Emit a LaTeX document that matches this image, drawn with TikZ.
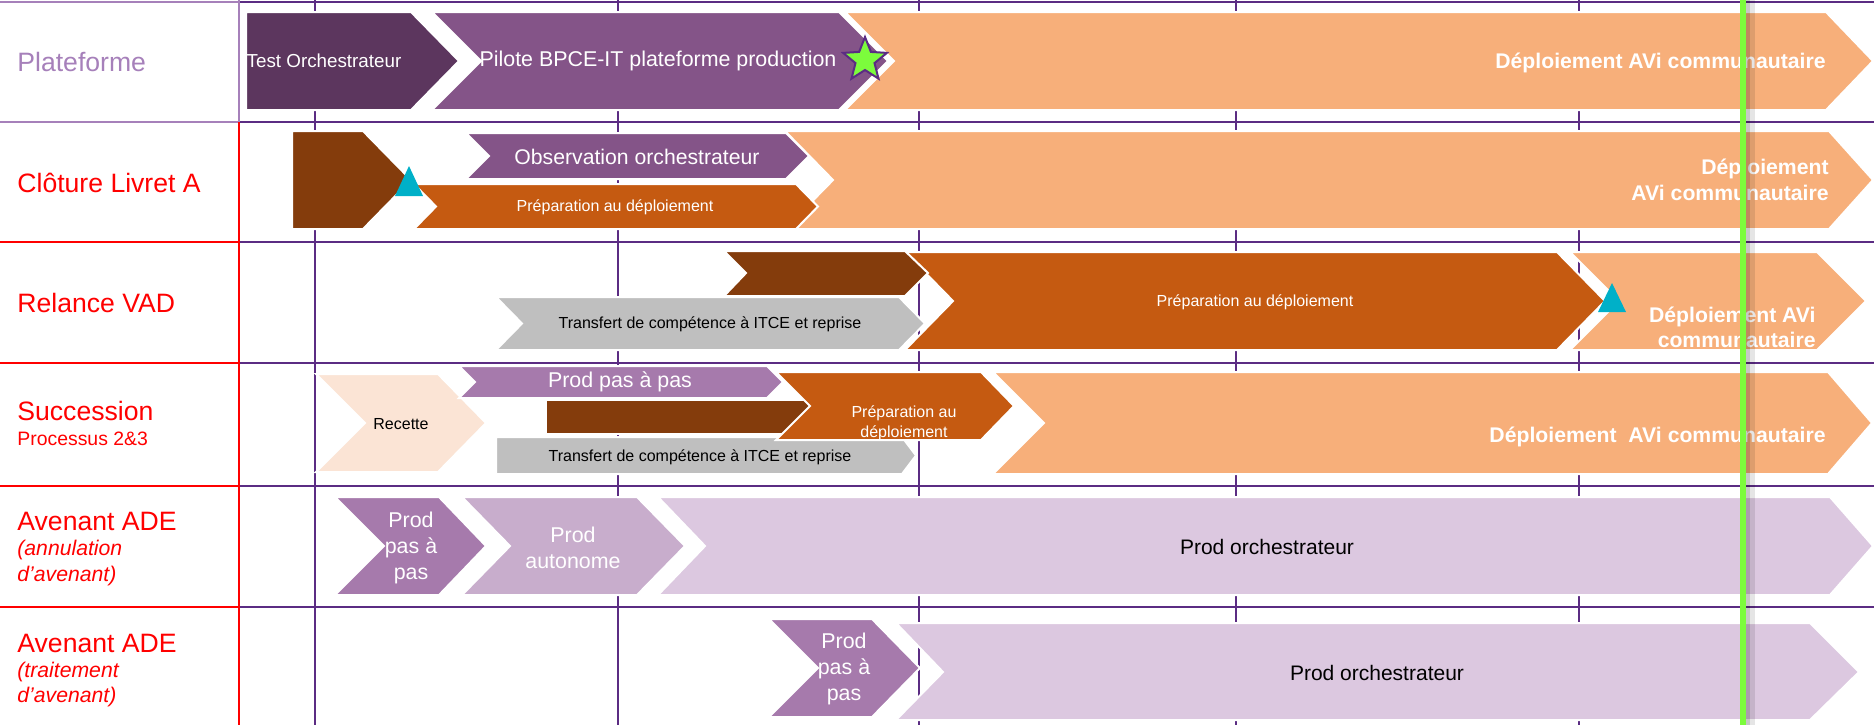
\documentclass[tikz,border=0pt]{standalone}
\usepackage{fontspec}
\setmainfont{Liberation Sans}
\usetikzlibrary{shapes.geometric}

\definecolor{lavlabel}{HTML}{A680BA}
\definecolor{gridpurple}{HTML}{5B2C83}
\definecolor{darkplum}{HTML}{5C365E}
\definecolor{plum}{HTML}{845488}
\definecolor{apricot}{HTML}{F7AF7A}
\definecolor{rust}{HTML}{843C0C}
\definecolor{burnt}{HTML}{C55A11}
\definecolor{silver}{HTML}{BFBFBF}
\definecolor{peach}{HTML}{FBE4D5}
\definecolor{mauve}{HTML}{A67AAC}
\definecolor{lilac}{HTML}{C8ADCC}
\definecolor{palelilac}{HTML}{DCC8E0}
\definecolor{tealmark}{HTML}{00B0C8}
\definecolor{markgreen}{HTML}{7CFC3C}
\definecolor{labelred}{HTML}{FF0000}

\tikzset{
  vgrid/.style={draw=gridpurple, line width=0.8pt},
  hgrid/.style={draw=gridpurple, line width=1.2pt},
  bar/.style={draw=white, line width=1pt, line join=miter},
  lbl/.style={anchor=west, inner sep=0pt, text=labelred, font=\fontsize{13.3}{15}\selectfont},
  sublbl/.style={lbl, font=\fontsize{10.6}{12}\selectfont\itshape},
  wtxt/.style={text=white, inner sep=0pt, align=center},
  ktxt/.style={text=black, inner sep=0pt, align=center},
  deptxt/.style={text=white, inner sep=0pt, anchor=east, align=right, font=\fontsize{10.6}{12.8}\selectfont\bfseries},
}

\begin{document}
\begin{tikzpicture}[x=0.5pt,y=-0.5pt]
\useasboundingbox (0,0) rectangle (1874,725);

\foreach \gx in {315,618,919,1236,1579} \draw[vgrid] (\gx,0) -- (\gx,725);
\foreach \gy in {2,122,242,363,486,607} \draw[hgrid] (239,\gy) -- (1874,\gy);

\draw[lavlabel, line width=1.2pt] (0,2) -- (239,2) (0,122) -- (239,122) (239,0) -- (239,122);
\draw[labelred, line width=1pt] (239,122) -- (239,725);
\foreach \gy in {242,363,486,607} \draw[labelred, line width=1.3pt] (0,\gy) -- (239,\gy);

% Plateforme
\filldraw[bar, fill=apricot] (845,12) -- (1826,12) -- (1873,61) -- (1826,110) -- (845,110) -- (894,61) -- cycle;
\filldraw[bar, fill=plum] (432,12) -- (839,12) -- (888,61) -- (839,110) -- (432,110) -- (481,61) -- cycle;
\filldraw[bar, fill=darkplum] (246,12) -- (411,12) -- (459,61) -- (411,110) -- (246,110) -- cycle;
\node[wtxt, font=\fontsize{9.4}{11}\selectfont] (testorch) at (324,61) {Test Orchestrateur};
\node[wtxt, font=\fontsize{10.7}{12}\selectfont] (pilote) at (658,61) {Pilote BPCE-IT plateforme production};
\node[deptxt] (dep1) at (1826,63) {Déploiement AVi communautaire};
\node[star, star points=5, star point ratio=2.3, minimum size=23pt, inner sep=0pt,
  fill=markgreen, draw=gridpurple, line width=1pt] (jalon) at (865,60) {};

% Cloture Livret A
\filldraw[bar, fill=apricot] (785,131) -- (1829,131) -- (1873,180) -- (1829,229) -- (785,229) -- (833,180) -- cycle;
\filldraw[bar, fill=plum] (466,133) -- (786,133) -- (809,156) -- (786,179) -- (466,179) -- (489,156) -- cycle;
\filldraw[bar, fill=burnt] (414,184) -- (796,184) -- (818,206.5) -- (796,229) -- (414,229) -- (436,206.5) -- cycle;
\filldraw[bar, fill=rust] (292,131) -- (363,131) -- (411,180) -- (363,229) -- (292,229) -- cycle;
\fill[tealmark] (395,196) -- (409,166) -- (423,196) -- cycle;
\node[wtxt, font=\fontsize{10.6}{12}\selectfont] (observ) at (637,157) {Observation orchestrateur};
\node[wtxt, font=\fontsize{8}{10}\selectfont] (prepa2) at (615,207) {Préparation au déploiement};
\node[deptxt] (dep2) at (1829,180) {Déploiement\\AVi communautaire};

% Relance VAD
\filldraw[bar, fill=apricot] (1570,252) -- (1817,252) -- (1866,301) -- (1817,350) -- (1570,350) -- (1619,301) -- cycle;
\filldraw[bar, fill=burnt] (905,252) -- (1557,252) -- (1605,301) -- (1557,350) -- (905,350) -- (953,301) -- cycle;
\filldraw[bar, fill=rust] (724,251) -- (905,251) -- (928,273) -- (905,296) -- (724,296) -- (746,273) -- cycle;
\filldraw[bar, fill=silver] (496,297) -- (899,297) -- (925,323.5) -- (899,350) -- (496,350) -- (522,323.5) -- cycle;
\fill[tealmark] (1598,312) -- (1612,283) -- (1626,312) -- cycle;
\node[ktxt, font=\fontsize{8}{10}\selectfont] (transf3) at (710,324) {Transfert de compétence à ITCE et reprise};
\node[wtxt, font=\fontsize{8}{10}\selectfont] (prepa3) at (1255,302) {Préparation au déploiement};
\node[deptxt, font=\fontsize{10.6}{12.5}\selectfont\bfseries] (dep3) at (1816,327) {Déploiement AVi\\communautaire};

% Succession
\filldraw[bar, fill=apricot] (993,372) -- (1828,372) -- (1872,423) -- (1828,474) -- (993,474) -- (1044,423) -- cycle;
\filldraw[bar, fill=peach] (316,374) -- (438,374) -- (486,423) -- (438,472) -- (316,472) -- (365,423) -- cycle;
\filldraw[bar, fill=mauve] (459,366) -- (767,366) -- (783,382) -- (767,398) -- (459,398) -- (475,382) -- cycle;
\filldraw[bar, fill=rust] (546,400) -- (830,400) -- (830,434) -- (546,434) -- cycle;
\filldraw[bar, fill=silver] (496,437) -- (902,437) -- (916,455.5) -- (902,474) -- (496,474) -- cycle;
\filldraw[bar, fill=burnt] (776,372) -- (981,372) -- (1014,406) -- (981,440) -- (776,440) -- (810,406) -- cycle;
\node[ktxt, font=\fontsize{8}{10}\selectfont] (recette) at (401,424) {Recette};
\node[wtxt, font=\fontsize{10.7}{12}\selectfont] (pap4) at (620,382) {Prod pas à pas};
\node[ktxt, font=\fontsize{8}{10}\selectfont] (transf4) at (700,457) {Transfert de compétence à ITCE et reprise};
\node[wtxt, font=\fontsize{8}{10}\selectfont] (prepa4) at (904,423) {Préparation au\\déploiement};
\node[deptxt] (dep4) at (1826,437) {Déploiement\ \ AVi communautaire};

% Avenant ADE annulation
\filldraw[bar, fill=palelilac] (658,497) -- (1830,497) -- (1873,546) -- (1830,595) -- (658,595) -- (705,546) -- cycle;
\filldraw[bar, fill=lilac] (462,497) -- (637,497) -- (685,546) -- (637,595) -- (462,595) -- (510,546) -- cycle;
\filldraw[bar, fill=mauve] (335,497) -- (439,497) -- (486,546) -- (439,595) -- (335,595) -- (384,546) -- cycle;
\node[wtxt, font=\fontsize{10.7}{12.9}\selectfont] (pap5) at (411,548) {Prod\\pas à\\pas};
\node[wtxt, font=\fontsize{10.7}{13.3}\selectfont] (auto5) at (573,548) {Prod\\autonome};
\node[ktxt, font=\fontsize{10.5}{12}\selectfont] (orch5) at (1267,547) {Prod orchestrateur};

% Avenant ADE traitement
\filldraw[bar, fill=palelilac] (896,623) -- (1810,623) -- (1859,672) -- (1810,720) -- (896,720) -- (943,672) -- cycle;
\filldraw[bar, fill=mauve] (769,619) -- (872,619) -- (920,668) -- (872,717) -- (769,717) -- (818,668) -- cycle;
\node[wtxt, font=\fontsize{10.7}{12.9}\selectfont] (pap6) at (844,669) {Prod\\pas à\\pas};
\node[ktxt, font=\fontsize{10.5}{12}\selectfont] (orch6) at (1377,673) {Prod orchestrateur};

% labels
\node[lbl, text=lavlabel] (lplat) at (17,62) {Plateforme};
\node[lbl] (lclot) at (17,183) {Clôture Livret A};
\node[lbl] (lrel) at (17,303) {Relance VAD};
\node[lbl] (lsucc) at (17,411) {Succession};
\node[lbl, font=\fontsize{9.7}{11}\selectfont] (lsuccp) at (17,439) {Processus 2\&3};
\node[lbl] (lavann) at (17,521) {Avenant ADE};
\node[sublbl] (lavann1) at (17,550) {(annulation};
\node[sublbl] (lavann2) at (17,576) {d’avenant)};
\node[lbl] (lavtrt) at (17,643) {Avenant ADE};
\node[sublbl] (lavtrt1) at (17,672) {(traitement};
\node[sublbl] (lavtrt2) at (17,697) {d’avenant)};

\fill[black, opacity=0.22] (1746,0) rectangle (1750,725);
\fill[black, opacity=0.1] (1750,0) rectangle (1755,725);
\draw[markgreen, line width=3pt] (1743,0) -- (1743,725);
\end{tikzpicture}
\end{document}
